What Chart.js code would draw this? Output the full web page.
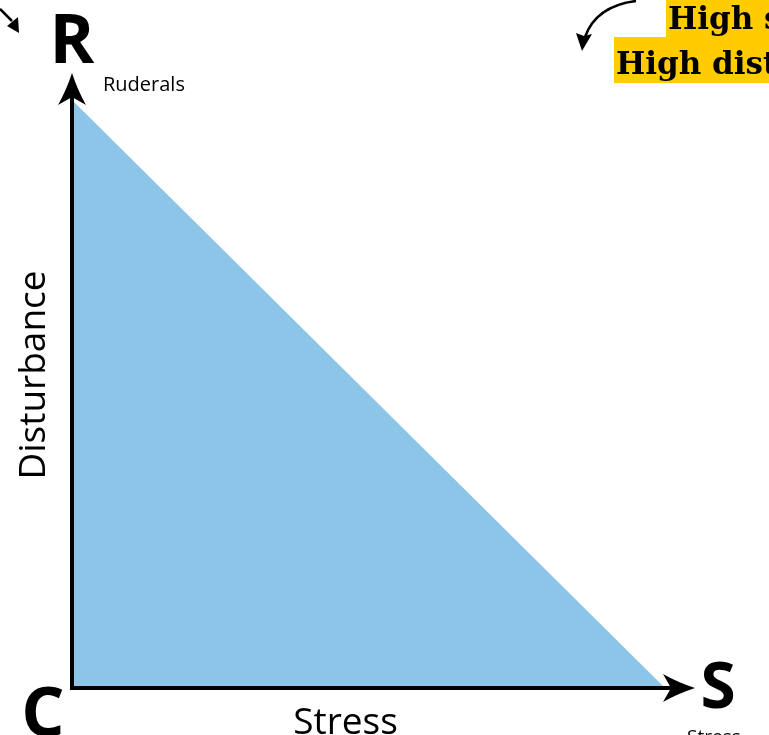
<!DOCTYPE html>
<html><head><meta charset="utf-8">
<script src="https://cdn.jsdelivr.net/npm/chart.js@4/dist/chart.umd.min.js"></script>
<style>html,body{margin:0;padding:0;background:#fff;overflow:hidden}#wrap{width:769px;height:735px;position:relative}</style>
</head><body><div id="wrap"><canvas id="c"></canvas></div>
<script>
// Triangle boundary (Stress vs Disturbance, relative units)
const stressValues = [0, 1];
const disturbanceValues = [1, 0];
const cornerLabels = ["R", "C", "S"];
const cornerNames = ["Ruderals", "Stress"];
const axisTitles = ["Stress", "Disturbance"];
const noteLines = ["High s", "High dist"];

const overlay = {
  id: 'overlay',
  afterDatasetsDraw(chart) {
    const ctx = chart.ctx, xs = chart.scales.x, ys = chart.scales.y;
    const x0 = xs.getPixelForValue(0), y0 = ys.getPixelForValue(0);
    const yTop = ys.getPixelForValue(1);
    const xEnd = xs.getPixelForValue(1);
    ctx.save();
    ctx.strokeStyle = '#000'; ctx.fillStyle = '#000'; ctx.lineWidth = 4;
    // y axis
    ctx.beginPath(); ctx.moveTo(x0, y0 + 2); ctx.lineTo(x0, yTop - 4); ctx.stroke();
    // arrowhead up (stealth)
    const tipY = yTop - 27;
    ctx.beginPath(); ctx.moveTo(x0, tipY);
    ctx.quadraticCurveTo(x0 + 6, tipY + 18, x0 + 14, tipY + 32);
    ctx.lineTo(x0, tipY + 24);
    ctx.lineTo(x0 - 14, tipY + 32);
    ctx.quadraticCurveTo(x0 - 6, tipY + 18, x0, tipY);
    ctx.closePath(); ctx.fill();
    // x axis
    ctx.beginPath(); ctx.moveTo(x0 - 2, y0); ctx.lineTo(xEnd + 6, y0); ctx.stroke();
    const tipX = xEnd + 30;
    ctx.beginPath(); ctx.moveTo(tipX, y0);
    ctx.quadraticCurveTo(tipX - 18, y0 - 6, tipX - 32, y0 - 14);
    ctx.lineTo(tipX - 24, y0);
    ctx.lineTo(tipX - 32, y0 + 14);
    ctx.quadraticCurveTo(tipX - 18, y0 + 6, tipX, y0);
    ctx.closePath(); ctx.fill();

    // corner labels
    ctx.textAlign = 'center'; ctx.textBaseline = 'alphabetic';
    ctx.font = 'bold 68px "Open Sans"';
    ctx.fillText(cornerLabels[0], x0, 63);
    ctx.fillText(cornerLabels[1], x0 - 29, y0 + 48);
    ctx.font = 'bold 64px "Open Sans"';
    ctx.fillText(cornerLabels[2], xEnd + 53, y0 + 20);
    ctx.textAlign = 'left';
    ctx.font = '20px "Open Sans"';
    ctx.fillText(cornerNames[0], x0 + 31, yTop - 9);
    ctx.font = '19px "Open Sans"';
    ctx.fillText(cornerNames[1], xEnd + 22, y0 + 55);
    // axis titles
    ctx.textAlign = 'center';
    ctx.font = '37px "Open Sans"';
    ctx.fillText(axisTitles[0], (x0 + xEnd) / 2 - 23, y0 + 46);
    ctx.save(); ctx.translate(x0 - 38, (y0 + yTop) / 2 - 19); ctx.rotate(-Math.PI / 2);
    ctx.textBaseline = 'middle'; ctx.fillText(axisTitles[1], 0, 0); ctx.restore();

    // top-left small arrow
    ctx.lineWidth = 2.5;
    ctx.beginPath(); ctx.moveTo(0, 9); ctx.lineTo(12, 21); ctx.stroke();
    ctx.beginPath(); ctx.moveTo(19, 33); ctx.lineTo(7, 26); ctx.lineTo(18, 17); ctx.closePath(); ctx.fill();

    // yellow note
    ctx.fillStyle = '#FFCC00';
    ctx.fillRect(666, 0, 110, 37);
    ctx.fillRect(614, 37, 160, 46);
    ctx.fillStyle = '#000';
    ctx.textAlign = 'left';
    ctx.font = 'bold 31px "DejaVu Serif"';
    ctx.fillText(noteLines[0], 668, 29);
    ctx.fillText(noteLines[1], 616, 74);
    // curved arrow
    ctx.lineWidth = 2.5;
    ctx.beginPath(); ctx.moveTo(636, 1); ctx.quadraticCurveTo(596, 6, 585, 37); ctx.stroke();
    ctx.beginPath(); ctx.moveTo(582, 51); ctx.lineTo(576, 33); ctx.lineTo(584, 36); ctx.lineTo(592, 34); ctx.closePath(); ctx.fill();
    ctx.restore();
  }
};

new Chart(document.getElementById('c'), {
  type: 'line',
  data: {
    datasets: [{
      data: stressValues.map((s, i) => ({ x: s, y: disturbanceValues[i] })),
      fill: 'origin',
      backgroundColor: '#8CC5E8',
      borderWidth: 0,
      pointRadius: 0,
      tension: 0
    }]
  },
  options: {
    responsive: true, maintainAspectRatio: false, animation: false,
    layout: { padding: { left: 72, right: 104, top: 100, bottom: 47 } },
    plugins: { legend: { display: false }, tooltip: { enabled: false } },
    scales: {
      x: { type: 'linear', min: 0, max: 1, display: false },
      y: { type: 'linear', min: 0, max: 1, display: false }
    }
  },
  plugins: [overlay]
});
</script></body></html>
